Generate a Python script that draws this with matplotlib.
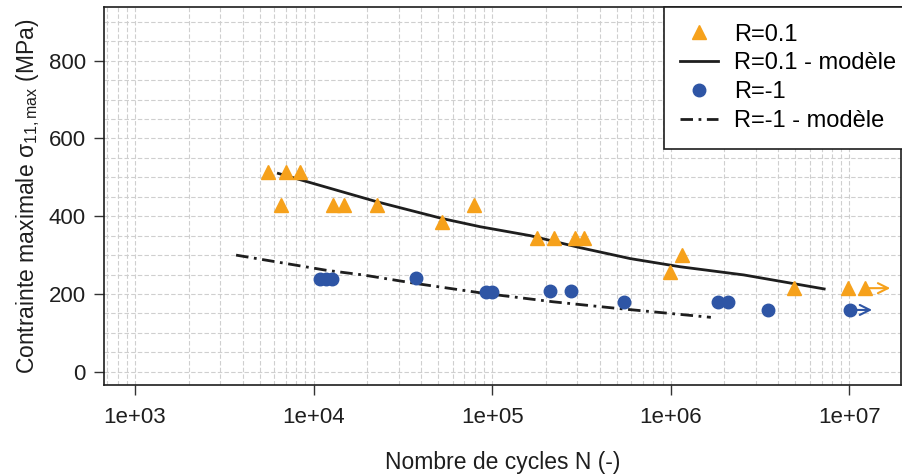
import numpy as np
import matplotlib
matplotlib.use('Agg')
import matplotlib.pyplot as plt
from matplotlib.ticker import LogLocator, MultipleLocator, NullFormatter

plt.rcParams['font.family'] = ['Liberation Sans', 'DejaVu Sans']
plt.rcParams['mathtext.fontset'] = 'custom'
plt.rcParams['mathtext.rm'] = 'Liberation Sans'
plt.rcParams['mathtext.it'] = 'Liberation Sans:italic'

# essais R=0.1
n_r01 = [5520, 7050, 8340, 6600, 12900, 14750, 22600, 52400, 79200,
         179000, 223000, 292000, 328000, 987000, 1150000, 4900000,
         9900000, 12300000]
s_r01 = [513, 513, 513, 428, 428, 428, 428, 385, 428,
         344, 344, 344, 344, 256, 300, 215, 215, 215]

# essais R=-1
n_rm1 = [10800, 11700, 12600, 37400, 92000, 100000, 212000, 278000,
         545000, 1840000, 2090000, 3500000, 10100000]
s_rm1 = [238, 238, 238, 240, 205, 205, 207, 207,
         180, 180, 180, 159, 159]

# courbes modele
n_mod01 = [6350, 22700, 52600, 85700, 163700, 311900, 594300, 1132000, 2570000, 7240000]
s_mod01 = [510, 437, 394, 373, 350, 319, 291, 270, 249, 213]
n_modm1 = [3680, 11780, 18920, 37410, 89100, 219300, 501200, 1679000]
s_modm1 = [300, 261, 249, 227, 202, 180, 163, 140]

orange = '#F6A11B'
blue = '#2E55A5'
ink = '#1e1e1e'

fig = plt.figure(figsize=(9.02, 4.74), dpi=100)
ax = fig.add_axes([104/902, 89/474, 797/902, 378/474])

ax.set_xscale('log')
ax.set_xlim(670, 1.95e7)
ax.set_ylim(-34, 938)

# grille
ax.xaxis.set_major_locator(LogLocator(base=10, numticks=20))
ax.xaxis.set_minor_locator(LogLocator(base=10, subs=np.arange(2, 10), numticks=20))
ax.xaxis.set_minor_formatter(NullFormatter())
ax.yaxis.set_major_locator(MultipleLocator(200))
ax.yaxis.set_minor_locator(MultipleLocator(50))
for v in np.arange(0, 950, 50):
    ax.axhline(v, color='#cfcfcf', lw=0.8, ls=(0, (4, 2)), zorder=0)
ax.grid(True, which='both', axis='x', color='#cfcfcf', lw=0.8, ls=(0, (4, 2)), zorder=0)

ax.plot(n_r01, s_r01, '^', color=orange, ms=10, ls='none', label='R=0.1', zorder=3)
ax.plot(n_mod01, s_mod01, '-', color=ink, lw=2, label='R=0.1 - modèle', zorder=2)
ax.plot(n_rm1, s_rm1, 'o', color=blue, ms=9, ls='none', label='R=-1', zorder=3)
ax.plot(n_modm1, s_modm1, color=ink, lw=2, dashes=(4.5, 2, 1, 2),
        label='R=-1 - modèle', zorder=2)

# essais non rompus
ax.annotate('', xy=(n_r01[-1] * 1.38, s_r01[-1]), xytext=(n_r01[-1], s_r01[-1]),
            arrowprops=dict(arrowstyle='->', color=orange, lw=1.5, shrinkA=0, shrinkB=0,
                            mutation_scale=18))
ax.annotate('', xy=(n_rm1[-1] * 1.33, s_rm1[-1]), xytext=(n_rm1[-1], s_rm1[-1]),
            arrowprops=dict(arrowstyle='->', color=blue, lw=1.5, shrinkA=0, shrinkB=0,
                            mutation_scale=18))

ax.set_xticks([1e3, 1e4, 1e5, 1e6, 1e7])
ax.set_xticklabels(['1e+03', '1e+04', '1e+05', '1e+06', '1e+07'])
ax.set_yticks([0, 200, 400, 600, 800])
ax.tick_params(axis='both', which='major', length=7, width=1, colors='#333333',
               labelsize=16, labelcolor=ink)
ax.tick_params(axis='y', pad=6)
ax.tick_params(axis='x', pad=9)
ax.tick_params(which='minor', length=0)
for s in ax.spines.values():
    s.set_color(ink)
    s.set_linewidth(1.2)

ax.set_xlabel('Nombre de cycles N (-)', fontsize=16.5, color=ink)
ax.xaxis.set_label_coords(0.5, -0.175)
ax.set_ylabel(r'Contrainte maximale σ$_{\mathrm{11,max}}$ (MPa)', fontsize=16.5, color=ink)
ax.yaxis.set_label_coords(-0.078, 0.5)

leg = ax.legend(loc='upper left', bbox_to_anchor=(0.7026, 1.0), borderaxespad=0,
                fontsize=17, frameon=True, fancybox=False, framealpha=1,
                edgecolor=ink, handlelength=1.6, handletextpad=0.68,
                labelspacing=0.29, borderpad=0.7)
leg.get_frame().set_linewidth(1.2)

fig.savefig('out.png', dpi=100)
